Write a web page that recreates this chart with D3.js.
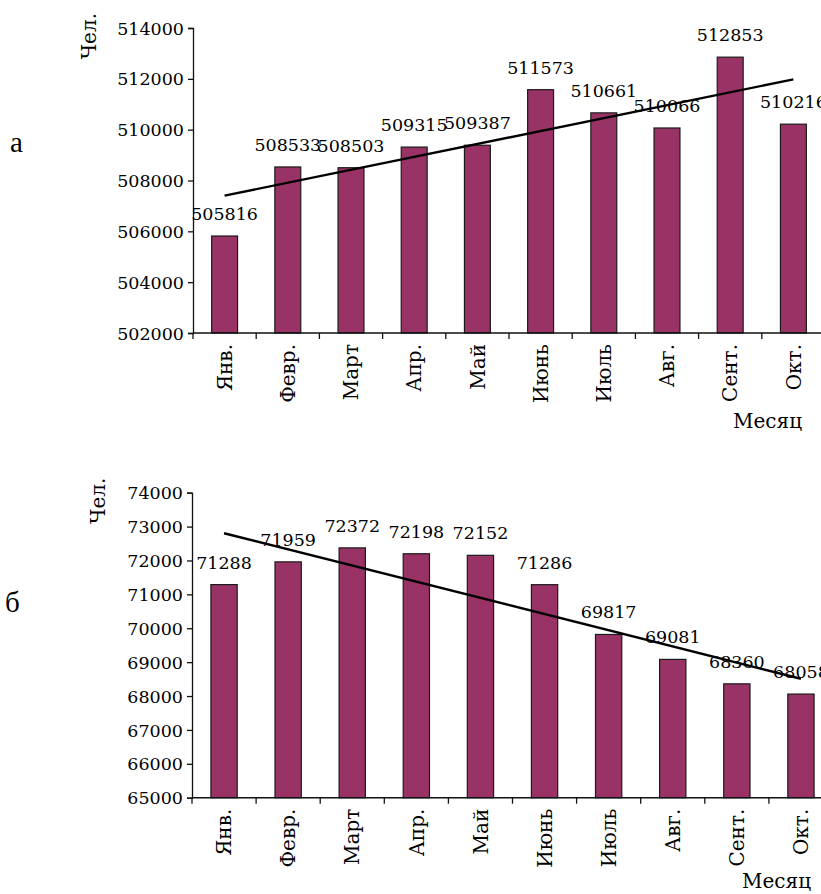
<!DOCTYPE html>
<html>
<head>
<meta charset="utf-8">
<script src="https://cdn.jsdelivr.net/npm/d3@7"></script>
<style>
  body { margin: 0; background: #ffffff; }
  svg text { font-family: "DejaVu Serif", serif; fill: #000; }
</style>
</head>
<body>
<script>
  // months on the x axis
  var months = ["Янв.", "Февр.", "Март", "Апр.", "Май", "Июнь", "Июль", "Авг.", "Сент.", "Окт."];

  // population of chart a and chart b
  var valuesA = [505816, 508533, 508503, 509315, 509387, 511573, 510661, 510066, 512853, 510216];
  var valuesB = [71288, 71959, 72372, 72198, 72152, 71286, 69817, 69081, 68360, 68058];

  // tick labels of the y axes
  var ticksA = [502000, 504000, 506000, 508000, 510000, 512000, 514000];
  var ticksB = [65000, 66000, 67000, 68000, 69000, 70000, 71000, 72000, 73000, 74000];

  var svg = d3.select("body")
              .append("svg")
              .attr("width", 821)
              .attr("height", 894);

  // draws one bar chart with its trend line
  function drawChart(values, ticks, box) {
      var yScale = d3.scaleLinear()
                     .domain([ticks[0], ticks[ticks.length - 1]])
                     .range([box.bottom, box.top]);

      var xScale = d3.scaleBand()
                     .domain(months)
                     .range([box.left, box.right])
                     .paddingInner(0.59)
                     .paddingOuter(0.295);

      var step = xScale.step();

      // y axis with ticks to the left
      var yAxis = d3.axisLeft(yScale)
                    .tickValues(ticks)
                    .tickFormat(d3.format("d"))
                    .tickSize(5)
                    .tickSizeOuter(5);

      var gy = svg.append("g")
                  .attr("transform", "translate(" + box.left + ",0)")
                  .call(yAxis);
      gy.selectAll("text").style("font-size", "17.5px").attr("x", -9).attr("dy", "0.35em").attr("fill", "#000");
      gy.selectAll("line, path").attr("stroke", "#111").attr("stroke-width", 1.3);

      // the bars
      svg.selectAll("rect.bar" + box.id)
         .data(values)
         .enter()
         .append("rect")
         .attr("class", "bar" + box.id)
         .attr("x", function(d, i) { return xScale(months[i]); })
         .attr("width", xScale.bandwidth())
         .attr("y", function(d) { return yScale(d); })
         .attr("height", function(d) { return box.bottom - yScale(d); })
         .attr("fill", "#993366")
         .attr("stroke", "#1a1a1a")
         .attr("stroke-width", 1.2);

      // x axis line with ticks between the months
      svg.append("line")
         .attr("x1", box.left).attr("x2", box.right)
         .attr("y1", box.bottom).attr("y2", box.bottom)
         .attr("stroke", "#111").attr("stroke-width", 1.5);

      var bounds = months.map(function(m) { return xScale(m) - step * 0.295; });
      bounds.push(box.right);
      svg.selectAll("line.tick" + box.id)
         .data(bounds)
         .enter()
         .append("line")
         .attr("x1", function(d) { return d; })
         .attr("x2", function(d) { return d; })
         .attr("y1", box.bottom)
         .attr("y2", box.bottom + 6)
         .attr("stroke", "#111")
         .attr("stroke-width", 1.3);

      // month names turned upright
      svg.selectAll("text.month" + box.id)
         .data(months)
         .enter()
         .append("text")
         .attr("transform", function(d) {
              return "translate(" + (xScale(d) + xScale.bandwidth() / 2) + "," + (box.bottom + 11) + ")rotate(-90)";
         })
         .attr("text-anchor", "end")
         .attr("dy", "0.36em")
         .style("font-size", "20px")
         .text(function(d) { return d; });

      // value labels above the bars
      svg.selectAll("text.value" + box.id)
         .data(values)
         .enter()
         .append("text")
         .attr("x", function(d, i) { return xScale(months[i]) + xScale.bandwidth() / 2; })
         .attr("y", function(d) { return yScale(d) - 16; })
         .attr("text-anchor", "middle")
         .style("font-size", "17.5px")
         .text(function(d) { return d; });

      // linear trend line (least squares over month numbers)
      var n = values.length;
      var meanX = (n + 1) / 2;
      var meanY = d3.mean(values);
      var sxy = 0, sxx = 0;
      values.forEach(function(v, i) {
          sxy += (i + 1 - meanX) * (v - meanY);
          sxx += (i + 1 - meanX) * (i + 1 - meanX);
      });
      var slope = sxy / sxx;
      var trend = [1, n].map(function(k) {
          return [xScale(months[k - 1]) + xScale.bandwidth() / 2, yScale(meanY + slope * (k - meanX))];
      });
      svg.append("path")
         .attr("d", d3.line()(trend))
         .attr("fill", "none")
         .attr("stroke", "#000")
         .attr("stroke-width", 2.4);

      // y axis title
      svg.append("text")
         .attr("transform", "translate(" + box.titleX + "," + (box.top - 15) + ")rotate(-90)")
         .attr("text-anchor", "end")
         .style("font-size", "20px")
         .text("Чел.");

      // x axis title
      svg.append("text")
         .attr("x", box.monthX)
         .attr("y", box.monthY)
         .style("font-size", "20px")
         .text("Месяц");

      // letter of the chart
      svg.append("text")
         .attr("x", box.letterX)
         .attr("y", box.letterY)
         .style("font-family", "'Liberation Serif', serif")
         .style("font-size", "29px")
         .text(box.letter);
  }

  drawChart(valuesA, ticksA, {
      id: "a", left: 193, right: 825, top: 28, bottom: 333,
      titleX: 96, monthX: 733, monthY: 428,
      letter: "а", letterX: 10, letterY: 152
  });

  drawChart(valuesB, ticksB, {
      id: "b", left: 192, right: 833, top: 492.7, bottom: 797.7,
      titleX: 105, monthX: 742, monthY: 888,
      letter: "б", letterX: 5, letterY: 612
  });
</script>
</body>
</html>
